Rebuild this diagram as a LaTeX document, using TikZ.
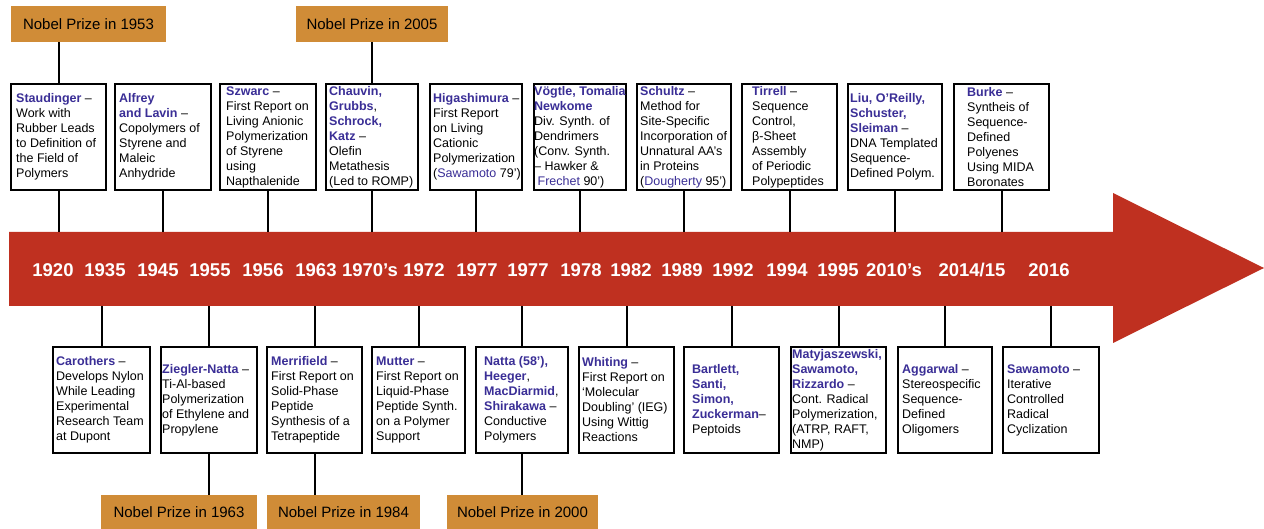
\documentclass[tikz,border=0pt]{standalone}
\usepackage{fontspec}
\setmainfont{Liberation Sans}
\definecolor{nmblue}{RGB}{58,46,150}
\definecolor{bandred}{RGB}{191,48,32}
\definecolor{nobel}{RGB}{208,140,55}
\newcommand{\nm}[1]{\textbf{\textcolor{nmblue}{#1}}}
\newcommand{\nmr}[1]{\textcolor{nmblue}{#1}}
\tikzset{
  evbox/.style={draw=black, line width=2pt, fill=white, minimum height=106pt, inner sep=0pt},
  evtext/.style={anchor=west, align=left, inner sep=0pt, font=\fontsize{12.5}{15}\selectfont},
  yr/.style={text=white, inner sep=0pt, font=\fontsize{18.5}{20}\selectfont\bfseries},
  nobelbox/.style={fill=nobel, draw=none, inner sep=0pt, font=\fontsize{15}{17}\selectfont},
  conn/.style={draw=black, line width=2pt},
}
\begin{document}
\begin{tikzpicture}[x=1pt,y=-1pt]
\useasboundingbox (0,0) rectangle (1264,529);
% timeline arrow
\fill[bandred] (9,232) -- (1113,232) -- (1113,193) -- (1264,268) -- (1113,343) -- (1113,306) -- (9,306) -- cycle;
\coordinate (bandtop) at (0,232);
\coordinate (bandbot) at (0,306);
% years
\foreach \x/\t/\n in {53/1920/y1,105/1935/y2,158/1945/y3,210/1955/y4,263/1956/y5,316/1963/y6,370/1970’s/y7,424/1972/y8,477/1977/y9,528/1977/y10,581/1978/y11,631/1982/y12,682/1989/y13,733/1992/y14,787/1994/y15,838/1995/y16,894/2010’s/y17,972/2014\slash 15/y18,1049/2016/y19}
  \node[yr] (\n) at (\x,270) {\t};
% Nobel boxes
\node[nobelbox, minimum width=155pt, minimum height=36pt] (n1953) at (88.5,24) {Nobel Prize in 1953};
\node[nobelbox, minimum width=152pt, minimum height=36pt] (n2005) at (372,24) {Nobel Prize in 2005};
\node[nobelbox, minimum width=156pt, minimum height=34pt] (n1963) at (179,512) {Nobel Prize in 1963};
\node[nobelbox, minimum width=153pt, minimum height=34pt] (n1984) at (343.5,512) {Nobel Prize in 1984};
\node[nobelbox, minimum width=151pt, minimum height=34pt] (n2000) at (522.5,512) {Nobel Prize in 2000};
% top boxes
\node[evbox, minimum width=95pt] (t1) at (58.5,137) {};
\node[evbox, minimum width=96pt] (t2) at (163,137) {};
\node[evbox, minimum width=96pt] (t3) at (268,137) {};
\node[evbox, minimum width=92pt] (t4) at (372,137) {};
\node[evbox, minimum width=92pt] (t5) at (476,137) {};
\node[evbox, minimum width=92pt] (t6) at (580,137) {};
\node[evbox, minimum width=94pt] (t7) at (684,137) {};
\node[evbox, minimum width=95pt] (t8) at (789.5,137) {};
\node[evbox, minimum width=94pt] (t9) at (895,137) {};
\node[evbox, minimum width=95pt] (t10) at (1001.5,137) {};
% bottom boxes
\node[evbox, minimum width=97pt] (b1) at (101.5,400) {};
\node[evbox, minimum width=96pt] (b2) at (209,400) {};
\node[evbox, minimum width=95pt] (b3) at (314.5,400) {};
\node[evbox, minimum width=93pt] (b4) at (418.5,400) {};
\node[evbox, minimum width=92pt] (b5) at (522,400) {};
\node[evbox, minimum width=95pt] (b6) at (626.5,400) {};
\node[evbox, minimum width=95pt] (b7) at (731.5,400) {};
\node[evbox, minimum width=95pt] (b8) at (838.5,400) {};
\node[evbox, minimum width=94pt] (b9) at (945,400) {};
\node[evbox, minimum width=96pt] (b10) at (1051,400) {};
% texts top
\node[evtext] (t1x) at ([xshift=6pt]t1.west) {\nm{Staudinger} –\\Work with\\Rubber Leads\\to Definition of\\the Field of\\Polymers};
\node[evtext] (t2x) at ([xshift=5pt]t2.west) {\nm{Alfrey}\\\nm{and Lavin} –\\Copolymers of\\Styrene and\\Maleic\\Anhydride};
\node[evtext] (t3x) at ([xshift=7pt]t3.west) {\nm{Szwarc} –\\First Report on\\Living Anionic\\Polymerization\\of Styrene\\using\\Napthalenide};
\node[evtext] (t4x) at ([xshift=4pt]t4.west) {\nm{Chauvin,}\\\nm{Grubbs},\\\nm{Schrock,}\\\nm{Katz} –\\Olefin\\Metathesis\\(Led to ROMP)};
\node[evtext] (t5x) at ([xshift=4pt]t5.west) {\nm{Higashimura} –\\First Report\\on Living\\Cationic\\Polymerization\\(\nmr{Sawamoto} 79’)};
\node[evtext] (t6x) at ([xshift=1pt]t6.west) {\nm{Vögtle, Tomalia}\\\nm{Newkome}\\Div. Synth. of\\Dendrimers\\(Conv. Synth.\\– Hawker \&\\\ \nmr{Frechet} 90’)};
\node[evtext] (t7x) at ([xshift=4pt]t7.west) {\nm{Schultz} –\\Method for\\Site-Specific\\Incorporation of\\Unnatural AA’s\\in Proteins\\(\nmr{Dougherty} 95’)};
\node[evtext] (t8x) at ([xshift=11pt]t8.west) {\nm{Tirrell} –\\Sequence\\Control,\\β-Sheet\\Assembly\\of Periodic\\Polypeptides};
\node[evtext] (t9x) at ([xshift=3pt]t9.west) {\nm{Liu, O’Reilly,}\\\nm{Schuster,}\\\nm{Sleiman} –\\DNA Templated\\Sequence-\\Defined Polym.};
\node[evtext] (t10x) at ([xshift=14pt]t10.west) {\nm{Burke} –\\Syntheis of\\Sequence-\\Defined\\Polyenes\\Using MIDA\\Boronates};
% texts bottom
\node[evtext] (b1x) at ([xshift=4pt]b1.west) {\nm{Carothers} –\\Develops Nylon\\While Leading\\Experimental\\Research Team\\at Dupont};
\node[evtext] (b2x) at ([xshift=2pt]b2.west) {\nm{Ziegler-Natta} –\\Ti-Al-based\\Polymerization\\of Ethylene and\\Propylene};
\node[evtext] (b3x) at ([xshift=5pt]b3.west) {\nm{Merrifield} –\\First Report on\\Solid-Phase\\Peptide\\Synthesis of a\\Tetrapeptide};
\node[evtext] (b4x) at ([xshift=5pt]b4.west) {\nm{Mutter} –\\First Report on\\Liquid-Phase\\Peptide Synth.\\on a Polymer\\Support};
\node[evtext] (b5x) at ([xshift=9pt]b5.west) {\nm{Natta (58’),}\\\nm{Heeger},\\\nm{MacDiarmid},\\\nm{Shirakawa} –\\Conductive\\Polymers};
\node[evtext] (b6x) at ([xshift=4pt]b6.west) {\nm{Whiting} –\\First Report on\\‘Molecular\\Doubling’ (IEG)\\Using Wittig\\Reactions};
\node[evtext] (b7x) at ([xshift=9pt]b7.west) {\nm{Bartlett,}\\\nm{Santi,}\\\nm{Simon,}\\\nm{Zuckerman}–\\Peptoids};
\node[evtext] (b8x) at ([xshift=2pt]b8.west) {\nm{Matyjaszewski,}\\\nm{Sawamoto,}\\\nm{Rizzardo} –\\Cont. Radical\\Polymerization,\\(ATRP, RAFT,\\NMP)};
\node[evtext] (b9x) at ([xshift=5pt]b9.west) {\nm{Aggarwal} –\\Stereospecific\\Sequence-\\Defined\\Oligomers};
\node[evtext] (b10x) at ([xshift=5pt]b10.west) {\nm{Sawamoto} –\\Iterative\\Controlled\\Radical\\Cyclization};
% connectors to band
\foreach \b in {t1,t2,t3,t4,t5,t6,t7,t8,t9,t10}
  \draw[conn] (\b.south) -- (\b.south |- bandtop);
\foreach \b in {b1,b2,b3,b4,b5,b6,b7,b8,b9,b10}
  \draw[conn] (\b.north) -- (\b.north |- bandbot);
% connectors to Nobel boxes
\draw[conn] (t1.north) -- (t1.north |- n1953.south);
\draw[conn] (t4.north) -- (t4.north |- n2005.south);
\draw[conn] (b2.south) -- (b2.south |- n1963.north);
\draw[conn] (b3.south) -- (b3.south |- n1984.north);
\draw[conn] (b5.south) -- (b5.south |- n2000.north);
\end{tikzpicture}
\end{document}
